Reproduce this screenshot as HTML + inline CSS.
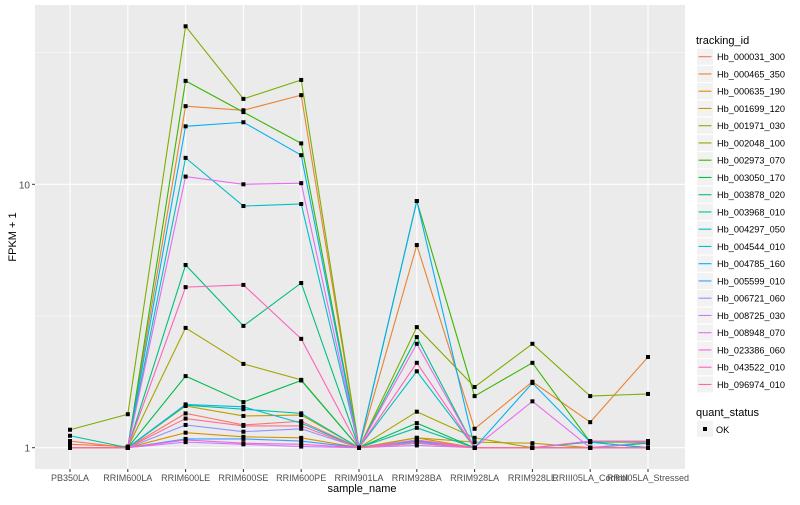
<!DOCTYPE html>
<html><head><meta charset="utf-8"><style>
body{margin:0;background:#fff;font-family:"Liberation Sans",sans-serif}
svg text{font-family:"Liberation Sans",sans-serif}
</style></head><body>
<svg id="chart" width="800" height="500"></svg>
<script>
const samples=["PB350LA","RRIM600LA","RRIM600LE","RRIM600SE","RRIM600PE","RRIM901LA","RRIM928BA","RRIM928LA","RRIM928LE","RRIII05LA_Control","RRIII05LA_Stressed"];
const ids=["Hb_000031_300","Hb_000465_350","Hb_000635_190","Hb_001699_120","Hb_001971_030","Hb_002048_100","Hb_002973_070","Hb_003050_170","Hb_003878_020","Hb_003968_010","Hb_004297_050","Hb_004544_010","Hb_004785_160","Hb_005599_010","Hb_006721_060","Hb_008725_030","Hb_008948_070","Hb_023386_060","Hb_043522_010","Hb_096974_010"];
const colors=["#F8766D","#EA8331","#D89000","#C09B00","#A3A500","#7CAE00","#39B600","#00BB4E","#00BF7D","#00C1A3","#00BFC4","#00BAE0","#00B0F6","#35A2FF","#9590FF","#C77CFF","#E76BF3","#FA62DB","#FF62BC","#FF6C91"];
const s000031=[1.06,1.0,1.35,1.22,1.26,1.0,1.06,1.0,1.0,1.0,1.0];
const s000465=[1.03,1.01,19.8,19.1,21.8,1.0,5.88,1.18,1.78,1.25,2.21];
const s000635=[1.0,1.0,1.14,1.10,1.09,1.0,1.09,1.0,1.0,1.0,1.0];
const s001699=[1.0,1.0,1.44,1.32,1.33,1.0,1.09,1.05,1.04,1.0,1.0];
const s001971=[1.0,1.0,2.85,2.08,1.81,1.0,1.37,1.09,1.0,1.0,1.0];
const s002048=[1.17,1.34,39.8,21.1,24.9,1.0,2.87,1.70,2.48,1.57,1.60];
const s002973=[1.0,1.0,24.7,18.8,14.3,1.0,8.64,1.57,2.10,1.05,1.05];
const s003050=[1.0,1.0,1.87,1.49,1.80,1.0,1.24,1.0,1.0,1.0,1.04];
const s003878=[1.0,1.0,4.94,2.90,4.22,1.0,2.63,1.0,1.0,1.0,1.0];
const s003968=[1.11,1.0,1.45,1.40,1.35,1.0,1.19,1.0,1.0,1.05,1.0];
const s004297=[1.0,1.0,12.6,8.27,8.42,1.0,1.95,1.0,1.0,1.0,1.0];
const s004544=[1.0,1.0,1.46,1.43,1.24,1.0,1.06,1.0,1.0,1.0,1.0];
const s004785=[1.0,1.0,16.6,17.2,12.9,1.0,8.64,1.0,1.76,1.05,1.0];
const s005599=[1.0,1.0,1.08,1.08,1.06,1.0,1.04,1.0,1.0,1.0,1.0];
const s006721=[1.0,1.0,1.22,1.15,1.18,1.0,1.05,1.0,1.0,1.0,1.0];
const s008725=[1.0,1.0,1.05,1.03,1.01,1.0,1.02,1.0,1.0,1.0,1.05];
const s008948=[1.0,1.0,10.7,10.0,10.1,1.0,2.48,1.0,1.50,1.0,1.0];
const s023386=[1.0,1.0,1.07,1.04,1.03,1.0,1.07,1.0,1.0,1.06,1.06];
const s043522=[1.0,1.0,4.07,4.15,2.59,1.0,2.10,1.0,1.0,1.0,1.0];
const s096974=[1.0,1.0,1.29,1.21,1.21,1.0,1.04,1.0,1.0,1.0,1.0];
const series=[s000031,s000465,s000635,s001699,s001971,s002048,s002973,s003050,s003878,s003968,s004297,s004544,s004785,s005599,s006721,s008725,s008948,s023386,s043522,s096974];
const yTicks=[1,10];
const yTickLabels=["1","10"];

const NS="http://www.w3.org/2000/svg";
const svg=document.getElementById('chart');
const P={l:35,r:685,t:5,b:469};
const x=i=>70+57.8*i;
const y=v=>447.7-263.4*Math.log10(v);
function el(t,a,p){const e=document.createElementNS(NS,t);for(const k in a)e.setAttribute(k,a[k]);(p||svg).appendChild(e);return e;}

const panel=el('rect',{x:P.l,y:P.t,width:P.r-P.l,height:P.b-P.t,fill:'#EBEBEB'});


[0.5,1.5].forEach(l=>{const g=el('line',{x1:P.l,x2:P.r,y1:447.7-263.4*l,y2:447.7-263.4*l,stroke:'#fff','stroke-width':0.5});

});
yTicks.forEach((v,i)=>{const g=el('line',{x1:P.l,x2:P.r,y1:y(v),y2:y(v),stroke:'#fff','stroke-width':1.1});


const tk=el('line',{x1:P.l-3,x2:P.l,y1:y(v),y2:y(v),stroke:'#333'});


const t=el('text',{x:P.l-5,y:y(v)+4,'text-anchor':'end','font-size':10,fill:'#4D4D4D'});t.textContent=yTickLabels[i];

});
samples.forEach((s,i)=>{const g=el('line',{x1:x(i),x2:x(i),y1:P.t,y2:P.b,stroke:'#fff','stroke-width':1.1});


const tk=el('line',{x1:x(i),x2:x(i),y1:P.b,y2:P.b+3,stroke:'#333'});


const t=el('text',{x:x(i),y:P.b+12,'text-anchor':'middle','font-size':9,fill:'#4D4D4D'});t.textContent=s;

});
series.forEach((d,k)=>{const pl=el('polyline',{points:d.map((v,i)=>x(i)+','+y(v)).join(' '),fill:'none',stroke:colors[k],'stroke-width':1.1});

});
series.forEach((d,k)=>d.forEach((v,i)=>{const r=el('rect',{x:x(i)-2,y:y(v)-2,width:4,height:4,fill:'#000'});

}));
let t=el('text',{x:362,y:492,'text-anchor':'middle','font-size':11,fill:'#000'});t.textContent='sample_name';


t=el('text',{x:0,y:0,'text-anchor':'middle','font-size':11,fill:'#000',transform:'translate(16,237) rotate(-90)'});t.textContent='FPKM + 1';


t=el('text',{x:696,y:44,'font-size':11,fill:'#000'});t.textContent='tracking_id';


ids.forEach((id,k)=>{const cy=56.7+17.25*k;
const g=el('g',{});


el('rect',{x:697,y:cy-8,width:16,height:16,fill:'#F2F2F2'},g);
el('line',{x1:698.5,x2:711.5,y1:cy,y2:cy,stroke:colors[k],'stroke-width':1.1},g);
const tt=el('text',{x:717,y:cy+3.5,'font-size':9.2,fill:'#000'},g);tt.textContent=id;});
t=el('text',{x:696,y:416,'font-size':11,fill:'#000'});t.textContent='quant_status';


const g2=el('g',{});


el('rect',{x:697,y:421,width:16,height:16,fill:'#F2F2F2'},g2);
el('rect',{x:703,y:427,width:4,height:4,fill:'#000'},g2);
t=el('text',{x:716,y:433,'font-size':9.2,fill:'#000'},g2);t.textContent='OK';
</script>
</body></html>
